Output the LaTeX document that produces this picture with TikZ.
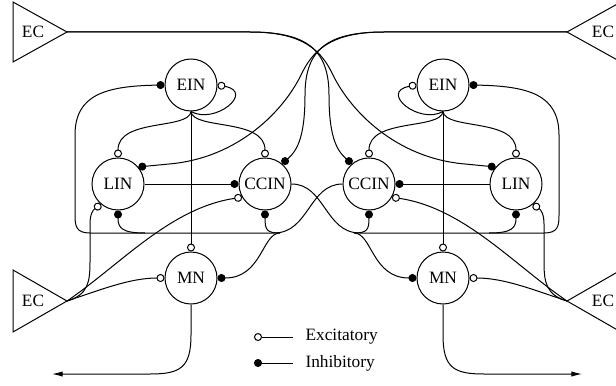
\documentclass[tikz,border=0pt]{standalone}
\usepackage{fontspec}
\setmainfont{Liberation Serif}
\usetikzlibrary{arrows.meta}

\tikzset{every picture/.style={line width=0.75pt}}
\tikzset{
    neuron/.style={circle,draw,minimum size=39pt,inner sep=0pt,font=\fontsize{13}{15}\selectfont},
    lbl/.style={inner sep=0.75pt,font=\fontsize{13}{15}\selectfont},
    exc/.style={-{Circle[open,length=6pt,width=6pt]}},
    inh/.style={-{Circle[length=6pt,width=6pt]}},
    outarrow/.style={-{Latex[length=8pt,width=4pt]}},
}

\begin{document}
\begin{tikzpicture}[x=0.75pt,y=0.75pt,yscale=-1,xscale=1]
        \useasboundingbox (0,0) rectangle (616,385);

        \draw    (67,32) -- (13,2) -- (13,62) -- cycle ;
        \draw    (567,32) -- (621,2) -- (621,62) -- cycle ;
        \draw    (67,301) -- (13,270) -- (13,332) -- cycle ;
        \draw    (567,301) -- (621,270) -- (621,332) -- cycle ;
        \coordinate (ectl) at (67,32);
        \coordinate (ectr) at (567,32);
        \coordinate (ecbl) at (67,301);
        \coordinate (ecbr) at (567,301);
        \node[lbl] (ECtl) at (33,32) {EC};
        \node[lbl] (ECtr) at (603,32) {EC};
        \node[lbl] (ECbl) at (33,301) {EC};
        \node[lbl] (ECbr) at (603,301) {EC};

        \node[neuron] (EINl) at (191,85) {EIN};
        \node[neuron] (LINl) at (118,184) {LIN};
        \node[neuron] (CCINl) at (265,184) {CCIN};
        \node[neuron] (MNl) at (191,278) {MN};
        \node[neuron] (EINr) at (443,85) {EIN};
        \node[neuron] (LINr) at (516,184) {LIN};
        \node[neuron] (CCINr) at (369,184) {CCIN};
        \node[neuron] (MNr) at (443,278) {MN};

        \draw[exc]    (EINl.south) -- (MNl.north) ;
        \draw[exc]    (EINl.south) .. controls (189,130) and (118,118) .. (LINl.north) ;
        \draw[exc]    (EINl.south) .. controls (193,130) and (265,118) .. (CCINl.north) ;
        \draw[exc]    (EINl.south) .. controls (215,125) and (255,92) .. (EINl.east) ;
        \draw[exc]    (EINr.south) -- (MNr.north) ;
        \draw[exc]    (EINr.south) .. controls (445,130) and (516,118) .. (LINr.north) ;
        \draw[exc]    (EINr.south) .. controls (441,130) and (369,118) .. (CCINr.north) ;
        \draw[exc]    (EINr.south) .. controls (419,125) and (379,92) .. (EINr.west) ;

        \draw[inh]    (LINl.east) -- (CCINl.west) ;
        \draw[inh]    (LINr.west) -- (CCINr.east) ;

        \draw[inh]    (ectl) -- (250,32) .. controls (305,32) and (329,48) .. (329,95) .. controls (329,135) and (336,150) .. (CCINr.130) ;
        \draw[inh]    (ectl) -- (250,32) .. controls (305,32) and (322,52) .. (333,75) .. controls (350,110) and (395,158) .. (465,164) -- (LINr.140) ;
        \draw[inh]    (ectr) -- (384,32) .. controls (329,32) and (305,48) .. (305,95) .. controls (305,135) and (298,150) .. (CCINl.50) ;
        \draw[inh]    (ectr) -- (384,32) .. controls (329,32) and (312,52) .. (301,75) .. controls (284,110) and (239,158) .. (169,164) -- (LINl.40) ;

        \draw[exc]    (ecbl) .. controls (88,295) and (90,282) .. (90,262) -- (90,224) .. controls (90,214) and (93,210) .. (LINl.230) ;
        \draw[exc]    (ecbl) .. controls (120,265) and (170,208) .. (CCINl.210) ;
        \draw[exc]    (ecbl) .. controls (100,290) and (130,278) .. (MNl.west) ;
        \draw[exc]    (ecbr) .. controls (546,295) and (544,282) .. (544,262) -- (544,224) .. controls (544,214) and (541,210) .. (LINr.310) ;
        \draw[exc]    (ecbr) .. controls (514,265) and (464,208) .. (CCINr.330) ;
        \draw[exc]    (ecbr) .. controls (534,290) and (504,278) .. (MNr.east) ;

        \draw[inh]    (CCINr.west) .. controls (309,184) and (309,233) .. (274,233) -- (90,233) .. controls (76,233) and (75,226) .. (75,215) -- (75,135) .. controls (75,95) and (105,86) .. (EINl.west) ;
        \coordinate (busla) at (280,233);
        \coordinate (buslb) at (145,233);
        \draw[inh]    (busla) .. controls (267,233) and (265,230) .. (CCINl.south) ;
        \draw[inh]    (busla) .. controls (262,233) and (262,278) .. (MNl.east) ;
        \draw[inh]    (buslb) .. controls (122,233) and (118,228) .. (LINl.south) ;

        \draw[inh]    (CCINl.east) .. controls (325,184) and (325,233) .. (360,233) -- (544,233) .. controls (558,233) and (559,226) .. (559,215) -- (559,135) .. controls (559,95) and (529,86) .. (EINr.east) ;
        \coordinate (busra) at (354,233);
        \coordinate (busrb) at (489,233);
        \draw[inh]    (busra) .. controls (367,233) and (369,230) .. (CCINr.south) ;
        \draw[inh]    (busra) .. controls (372,233) and (372,278) .. (MNr.west) ;
        \draw[inh]    (busrb) .. controls (512,233) and (516,228) .. (LINr.south) ;

        \coordinate (outl) at (52,374);
        \coordinate (outr) at (582,374);
        \draw[outarrow]    (MNl.south) -- (191,335) .. controls (191,368) and (180,374) .. (150,374) -- (outl) ;
        \draw[outarrow]    (MNr.south) -- (443,335) .. controls (443,368) and (454,374) .. (484,374) -- (outr) ;

        \node[lbl,anchor=west] (lgexc) at (304,337) {Excitatory};
        \node[lbl,anchor=west] (lginh) at (304,363) {Inhibitory};
        \draw[exc]    ([xshift=-8.25pt]lgexc.west) -- ++(-39,0) ;
        \draw[inh]    ([xshift=-8.25pt]lginh.west) -- ++(-39,0) ;
\end{tikzpicture}
\end{document}
